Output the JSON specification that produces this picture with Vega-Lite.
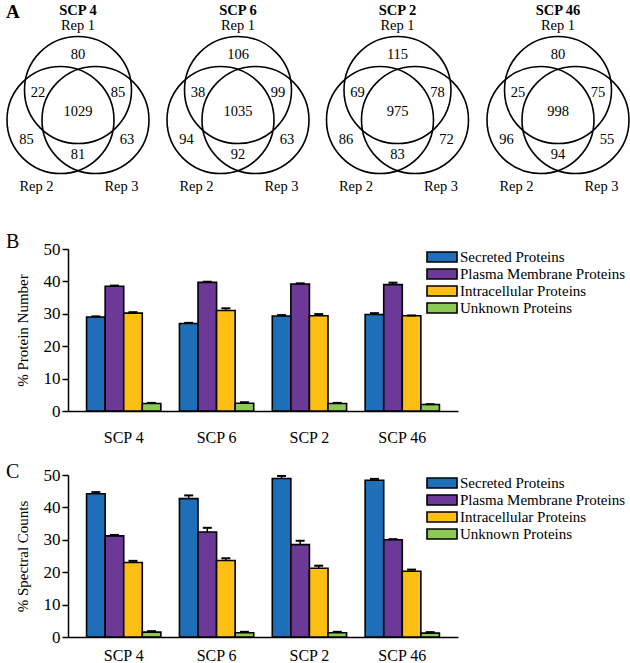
{
  "$schema": "https://vega.github.io/schema/vega-lite/v6.json",
  "padding": {"left": 3, "top": 0, "right": 0, "bottom": 0},
  "columns": 1,
  "align": {"row": "each", "column": "all"},
  "spacing": 17,
  "config": {
    "view": {"stroke": null},
    "font": "Liberation Serif",
    "axis": {"labelFont": "Liberation Serif", "titleFont": "Liberation Serif", "labelColor": "black", "titleColor": "black", "domainColor": "black", "tickColor": "black", "grid": false, "titleFontWeight": "normal", "labelOverlap": false},
    "legend": {"labelFont": "Liberation Serif", "labelFontSize": 15, "labelColor": "black", "labelLimit": 300, "symbolType": "M-2.143,-0.714H2.143V0.714H-2.143Z", "symbolSize": 196, "symbolStrokeColor": "black", "symbolStrokeWidth": 1.6, "symbolOpacity": 1, "rowPadding": -4, "labelOffset": 10, "padding": 0}
  },
  "resolve": {"scale": {"x": "independent", "y": "independent", "color": "independent"}, "legend": {"color": "independent"}},
  "datasets": {
    "venn_circles": [
      {"panel": "SCP 4", "rep": "Rep 1", "x": 75, "y": 90},
      {"panel": "SCP 4", "rep": "Rep 2", "x": 57.5, "y": 120},
      {"panel": "SCP 4", "rep": "Rep 3", "x": 92.5, "y": 120},
      {"panel": "SCP 6", "rep": "Rep 1", "x": 235, "y": 90},
      {"panel": "SCP 6", "rep": "Rep 2", "x": 217.5, "y": 120},
      {"panel": "SCP 6", "rep": "Rep 3", "x": 252.5, "y": 120},
      {"panel": "SCP 2", "rep": "Rep 1", "x": 394.5, "y": 90},
      {"panel": "SCP 2", "rep": "Rep 2", "x": 377, "y": 120},
      {"panel": "SCP 2", "rep": "Rep 3", "x": 412, "y": 120},
      {"panel": "SCP 46", "rep": "Rep 1", "x": 555, "y": 90},
      {"panel": "SCP 46", "rep": "Rep 2", "x": 537.5, "y": 120},
      {"panel": "SCP 46", "rep": "Rep 3", "x": 572.5, "y": 120}
    ],
    "venn_counts": [
      {"panel": "SCP 4", "region": "Rep 1 only", "count": 80, "x": 75, "y": 55},
      {"panel": "SCP 4", "region": "Rep 1 & 2", "count": 22, "x": 35, "y": 92.5},
      {"panel": "SCP 4", "region": "Rep 1 & 3", "count": 85, "x": 115, "y": 92.5},
      {"panel": "SCP 4", "region": "All", "count": 1029, "x": 75, "y": 112},
      {"panel": "SCP 4", "region": "Rep 2 only", "count": 85, "x": 23.5, "y": 140},
      {"panel": "SCP 4", "region": "Rep 3 only", "count": 63, "x": 124, "y": 140},
      {"panel": "SCP 4", "region": "Rep 2 & 3", "count": 81, "x": 75, "y": 155},
      {"panel": "SCP 6", "region": "Rep 1 only", "count": 106, "x": 235, "y": 55},
      {"panel": "SCP 6", "region": "Rep 1 & 2", "count": 38, "x": 195, "y": 92.5},
      {"panel": "SCP 6", "region": "Rep 1 & 3", "count": 99, "x": 275, "y": 92.5},
      {"panel": "SCP 6", "region": "All", "count": 1035, "x": 235, "y": 112},
      {"panel": "SCP 6", "region": "Rep 2 only", "count": 94, "x": 183.5, "y": 140},
      {"panel": "SCP 6", "region": "Rep 3 only", "count": 63, "x": 284, "y": 140},
      {"panel": "SCP 6", "region": "Rep 2 & 3", "count": 92, "x": 235, "y": 155},
      {"panel": "SCP 2", "region": "Rep 1 only", "count": 115, "x": 394.5, "y": 55},
      {"panel": "SCP 2", "region": "Rep 1 & 2", "count": 69, "x": 354.5, "y": 92.5},
      {"panel": "SCP 2", "region": "Rep 1 & 3", "count": 78, "x": 434.5, "y": 92.5},
      {"panel": "SCP 2", "region": "All", "count": 975, "x": 394.5, "y": 112},
      {"panel": "SCP 2", "region": "Rep 2 only", "count": 86, "x": 343, "y": 140},
      {"panel": "SCP 2", "region": "Rep 3 only", "count": 72, "x": 443.5, "y": 140},
      {"panel": "SCP 2", "region": "Rep 2 & 3", "count": 83, "x": 394.5, "y": 155},
      {"panel": "SCP 46", "region": "Rep 1 only", "count": 80, "x": 555, "y": 55},
      {"panel": "SCP 46", "region": "Rep 1 & 2", "count": 25, "x": 515, "y": 92.5},
      {"panel": "SCP 46", "region": "Rep 1 & 3", "count": 75, "x": 595, "y": 92.5},
      {"panel": "SCP 46", "region": "All", "count": 998, "x": 555, "y": 112},
      {"panel": "SCP 46", "region": "Rep 2 only", "count": 96, "x": 503.5, "y": 140},
      {"panel": "SCP 46", "region": "Rep 3 only", "count": 55, "x": 604, "y": 140},
      {"panel": "SCP 46", "region": "Rep 2 & 3", "count": 94, "x": 555, "y": 155}
    ],
    "venn_text": [
      {"panel": "SCP 4", "kind": "title", "label": "SCP 4", "x": 75, "y": 10.5},
      {"panel": "SCP 4", "kind": "rep", "label": "Rep 1", "x": 75, "y": 26},
      {"panel": "SCP 4", "kind": "rep", "label": "Rep 2", "x": 33.5, "y": 187},
      {"panel": "SCP 4", "kind": "rep", "label": "Rep 3", "x": 118.5, "y": 187},
      {"panel": "SCP 6", "kind": "title", "label": "SCP 6", "x": 235, "y": 10.5},
      {"panel": "SCP 6", "kind": "rep", "label": "Rep 1", "x": 235, "y": 26},
      {"panel": "SCP 6", "kind": "rep", "label": "Rep 2", "x": 193.5, "y": 187},
      {"panel": "SCP 6", "kind": "rep", "label": "Rep 3", "x": 278.5, "y": 187},
      {"panel": "SCP 2", "kind": "title", "label": "SCP 2", "x": 394.5, "y": 10.5},
      {"panel": "SCP 2", "kind": "rep", "label": "Rep 1", "x": 394.5, "y": 26},
      {"panel": "SCP 2", "kind": "rep", "label": "Rep 2", "x": 353, "y": 187},
      {"panel": "SCP 2", "kind": "rep", "label": "Rep 3", "x": 438, "y": 187},
      {"panel": "SCP 46", "kind": "title", "label": "SCP 46", "x": 555, "y": 10.5},
      {"panel": "SCP 46", "kind": "rep", "label": "Rep 1", "x": 555, "y": 26},
      {"panel": "SCP 46", "kind": "rep", "label": "Rep 2", "x": 513.5, "y": 187},
      {"panel": "SCP 46", "kind": "rep", "label": "Rep 3", "x": 598.5, "y": 187}
    ],
    "protein": [
      {"scp": "SCP 4", "category": "Secreted Proteins", "value": 29.0, "upper": 29.2},
      {"scp": "SCP 4", "category": "Plasma Membrane Proteins", "value": 38.5, "upper": 38.7},
      {"scp": "SCP 4", "category": "Intracellular Proteins", "value": 30.2, "upper": 30.5},
      {"scp": "SCP 4", "category": "Unknown Proteins", "value": 2.3, "upper": 2.5},
      {"scp": "SCP 6", "category": "Secreted Proteins", "value": 27.0, "upper": 27.2},
      {"scp": "SCP 6", "category": "Plasma Membrane Proteins", "value": 39.7, "upper": 39.9},
      {"scp": "SCP 6", "category": "Intracellular Proteins", "value": 31.0, "upper": 31.7},
      {"scp": "SCP 6", "category": "Unknown Proteins", "value": 2.4, "upper": 2.7},
      {"scp": "SCP 2", "category": "Secreted Proteins", "value": 29.3, "upper": 29.6},
      {"scp": "SCP 2", "category": "Plasma Membrane Proteins", "value": 39.2, "upper": 39.4},
      {"scp": "SCP 2", "category": "Intracellular Proteins", "value": 29.4, "upper": 29.9},
      {"scp": "SCP 2", "category": "Unknown Proteins", "value": 2.3, "upper": 2.5},
      {"scp": "SCP 46", "category": "Secreted Proteins", "value": 29.8, "upper": 30.2},
      {"scp": "SCP 46", "category": "Plasma Membrane Proteins", "value": 39.0, "upper": 39.6},
      {"scp": "SCP 46", "category": "Intracellular Proteins", "value": 29.4, "upper": 29.5},
      {"scp": "SCP 46", "category": "Unknown Proteins", "value": 2.0, "upper": 2.1}
    ],
    "spectral": [
      {"scp": "SCP 4", "category": "Secreted Proteins", "value": 44.2, "upper": 44.7},
      {"scp": "SCP 4", "category": "Plasma Membrane Proteins", "value": 31.2, "upper": 31.5},
      {"scp": "SCP 4", "category": "Intracellular Proteins", "value": 23.0, "upper": 23.5},
      {"scp": "SCP 4", "category": "Unknown Proteins", "value": 1.5, "upper": 1.8},
      {"scp": "SCP 6", "category": "Secreted Proteins", "value": 42.7, "upper": 43.7},
      {"scp": "SCP 6", "category": "Plasma Membrane Proteins", "value": 32.4, "upper": 33.7},
      {"scp": "SCP 6", "category": "Intracellular Proteins", "value": 23.6, "upper": 24.3},
      {"scp": "SCP 6", "category": "Unknown Proteins", "value": 1.3, "upper": 1.6},
      {"scp": "SCP 2", "category": "Secreted Proteins", "value": 48.9, "upper": 49.7},
      {"scp": "SCP 2", "category": "Plasma Membrane Proteins", "value": 28.5, "upper": 29.7},
      {"scp": "SCP 2", "category": "Intracellular Proteins", "value": 21.2, "upper": 22.0},
      {"scp": "SCP 2", "category": "Unknown Proteins", "value": 1.3, "upper": 1.6},
      {"scp": "SCP 46", "category": "Secreted Proteins", "value": 48.4, "upper": 48.8},
      {"scp": "SCP 46", "category": "Plasma Membrane Proteins", "value": 30.0, "upper": 30.2},
      {"scp": "SCP 46", "category": "Intracellular Proteins", "value": 20.3, "upper": 20.8},
      {"scp": "SCP 46", "category": "Unknown Proteins", "value": 1.2, "upper": 1.5}
    ]
  },
  "concat": [
    {
      "width": 565,
      "height": 215,
      "title": {"text": "A", "anchor": "start", "frame": "group", "offset": -37, "dx": -62, "baseline": "alphabetic", "fontSize": 19, "fontWeight": "bold", "font": "Liberation Serif", "color": "black"},
      "layer": [
        {
          "data": {"name": "venn_circles"},
          "mark": {"type": "point", "shape": "circle", "filled": false, "stroke": "black", "strokeWidth": 1.6, "opacity": 1, "size": 11449},
          "encoding": {
            "x": {"field": "x", "type": "quantitative", "scale": {"domain": [65, 630], "nice": false, "zero": false}, "axis": null},
            "y": {"field": "y", "type": "quantitative", "scale": {"domain": [0, 215], "reverse": true, "nice": false, "zero": false}, "axis": null}
          }
        },
        {
          "data": {"name": "venn_counts"},
          "mark": {"type": "text", "font": "Liberation Serif", "fontSize": 14.5, "baseline": "middle", "align": "center", "color": "black"},
          "encoding": {
            "x": {"field": "x", "type": "quantitative", "scale": {"domain": [65, 630], "nice": false, "zero": false}, "axis": null},
            "y": {"field": "y", "type": "quantitative", "scale": {"domain": [0, 215], "reverse": true, "nice": false, "zero": false}, "axis": null},
            "text": {"field": "count", "type": "quantitative", "format": "d"}
          }
        },
        {
          "data": {"name": "venn_text"},
          "transform": [{"filter": "datum.kind == 'rep'"}],
          "mark": {"type": "text", "font": "Liberation Serif", "fontSize": 14.5, "baseline": "middle", "align": "center", "color": "black"},
          "encoding": {
            "x": {"field": "x", "type": "quantitative", "scale": {"domain": [65, 630], "nice": false, "zero": false}, "axis": null},
            "y": {"field": "y", "type": "quantitative", "scale": {"domain": [0, 215], "reverse": true, "nice": false, "zero": false}, "axis": null},
            "text": {"field": "label", "type": "nominal"}
          }
        },
        {
          "data": {"name": "venn_text"},
          "transform": [{"filter": "datum.kind == 'title'"}],
          "mark": {"type": "text", "font": "Liberation Serif", "fontSize": 14.5, "fontWeight": "bold", "baseline": "middle", "align": "center", "color": "black"},
          "encoding": {
            "x": {"field": "x", "type": "quantitative", "scale": {"domain": [65, 630], "nice": false, "zero": false}, "axis": null},
            "y": {"field": "y", "type": "quantitative", "scale": {"domain": [0, 215], "reverse": true, "nice": false, "zero": false}, "axis": null},
            "text": {"field": "label", "type": "nominal"}
          }
        }
      ]
    },
    {
      "width": 390,
      "height": 162,
      "data": {"name": "protein"},
      "title": {"text": "B", "anchor": "start", "frame": "group", "offset": -28, "dx": -62, "baseline": "alphabetic", "fontSize": 20, "fontWeight": "normal", "font": "Liberation Serif", "color": "black"},
      "encoding": {
        "x": {"field": "scp", "type": "nominal", "sort": ["SCP 4", "SCP 6", "SCP 2", "SCP 46"], "scale": {"paddingInner": 0.2, "paddingOuter": 0.2}, "axis": {"title": null, "labelAngle": 0, "ticks": false, "domainWidth": 1.5, "labelFontSize": 16, "labelPadding": 18}},
        "xOffset": {"field": "category", "type": "nominal", "sort": ["Secreted Proteins", "Plasma Membrane Proteins", "Intracellular Proteins", "Unknown Proteins"], "scale": {"paddingInner": 0, "paddingOuter": 0}}
      },
      "layer": [
        {
          "mark": {"type": "bar", "stroke": "black", "strokeWidth": 1.6},
          "encoding": {
            "y": {"field": "value", "type": "quantitative", "scale": {"domain": [0, 50], "nice": false}, "axis": {"title": "% Protein Number", "values": [0, 10, 20, 30, 40, 50], "labelOverlap": false, "domainWidth": 1.5, "tickWidth": 1.5, "tickSize": 6, "labelFontSize": 17, "labelPadding": 2, "titleFontSize": 15, "titlePadding": 13}},
            "color": {"field": "category", "type": "nominal", "scale": {"domain": ["Secreted Proteins", "Plasma Membrane Proteins", "Intracellular Proteins", "Unknown Proteins"], "range": ["#1F6EB8", "#6C3A96", "#FDBF14", "#8DC955"]}, "legend": {"title": null, "orient": "none", "legendX": 366, "legendY": 0}}
          }
        },
        {
          "mark": {"type": "rule", "color": "black", "strokeWidth": 1.5},
          "encoding": {
            "y": {"field": "value", "type": "quantitative", "scale": {"domain": [0, 50], "nice": false}, "axis": {"title": "% Protein Number", "values": [0, 10, 20, 30, 40, 50], "labelOverlap": false, "domainWidth": 1.5, "tickWidth": 1.5, "tickSize": 6, "labelFontSize": 17, "labelPadding": 2, "titleFontSize": 15, "titlePadding": 13}},
            "y2": {"field": "upper"}
          }
        },
        {
          "mark": {"type": "tick", "color": "black", "thickness": 2, "size": 9, "orient": "horizontal", "opacity": 1},
          "encoding": {
            "y": {"field": "upper", "type": "quantitative", "scale": {"domain": [0, 50], "nice": false}, "axis": {"title": "% Protein Number", "values": [0, 10, 20, 30, 40, 50], "labelOverlap": false, "domainWidth": 1.5, "tickWidth": 1.5, "tickSize": 6, "labelFontSize": 17, "labelPadding": 2, "titleFontSize": 15, "titlePadding": 13}}
          }
        }
      ]
    },
    {
      "width": 390,
      "height": 162,
      "data": {"name": "spectral"},
      "title": {"text": "C", "anchor": "start", "frame": "group", "offset": -32, "dx": -62, "baseline": "alphabetic", "fontSize": 20, "fontWeight": "normal", "font": "Liberation Serif", "color": "black"},
      "encoding": {
        "x": {"field": "scp", "type": "nominal", "sort": ["SCP 4", "SCP 6", "SCP 2", "SCP 46"], "scale": {"paddingInner": 0.2, "paddingOuter": 0.2}, "axis": {"title": null, "labelAngle": 0, "ticks": false, "domainWidth": 1.5, "labelFontSize": 16, "labelPadding": 10}},
        "xOffset": {"field": "category", "type": "nominal", "sort": ["Secreted Proteins", "Plasma Membrane Proteins", "Intracellular Proteins", "Unknown Proteins"], "scale": {"paddingInner": 0, "paddingOuter": 0}}
      },
      "layer": [
        {
          "mark": {"type": "bar", "stroke": "black", "strokeWidth": 1.6},
          "encoding": {
            "y": {"field": "value", "type": "quantitative", "scale": {"domain": [0, 50], "nice": false}, "axis": {"title": "% Spectral Counts", "values": [0, 10, 20, 30, 40, 50], "labelOverlap": false, "domainWidth": 1.5, "tickWidth": 1.5, "tickSize": 6, "labelFontSize": 17, "labelPadding": 2, "titleFontSize": 15, "titlePadding": 13}},
            "color": {"field": "category", "type": "nominal", "scale": {"domain": ["Secreted Proteins", "Plasma Membrane Proteins", "Intracellular Proteins", "Unknown Proteins"], "range": ["#1F6EB8", "#6C3A96", "#FDBF14", "#8DC955"]}, "legend": {"title": null, "orient": "none", "legendX": 366, "legendY": 0}}
          }
        },
        {
          "mark": {"type": "rule", "color": "black", "strokeWidth": 1.5},
          "encoding": {
            "y": {"field": "value", "type": "quantitative", "scale": {"domain": [0, 50], "nice": false}, "axis": {"title": "% Spectral Counts", "values": [0, 10, 20, 30, 40, 50], "labelOverlap": false, "domainWidth": 1.5, "tickWidth": 1.5, "tickSize": 6, "labelFontSize": 17, "labelPadding": 2, "titleFontSize": 15, "titlePadding": 13}},
            "y2": {"field": "upper"}
          }
        },
        {
          "mark": {"type": "tick", "color": "black", "thickness": 2, "size": 9, "orient": "horizontal", "opacity": 1},
          "encoding": {
            "y": {"field": "upper", "type": "quantitative", "scale": {"domain": [0, 50], "nice": false}, "axis": {"title": "% Spectral Counts", "values": [0, 10, 20, 30, 40, 50], "labelOverlap": false, "domainWidth": 1.5, "tickWidth": 1.5, "tickSize": 6, "labelFontSize": 17, "labelPadding": 2, "titleFontSize": 15, "titlePadding": 13}}
          }
        }
      ]
    }
  ]
}
